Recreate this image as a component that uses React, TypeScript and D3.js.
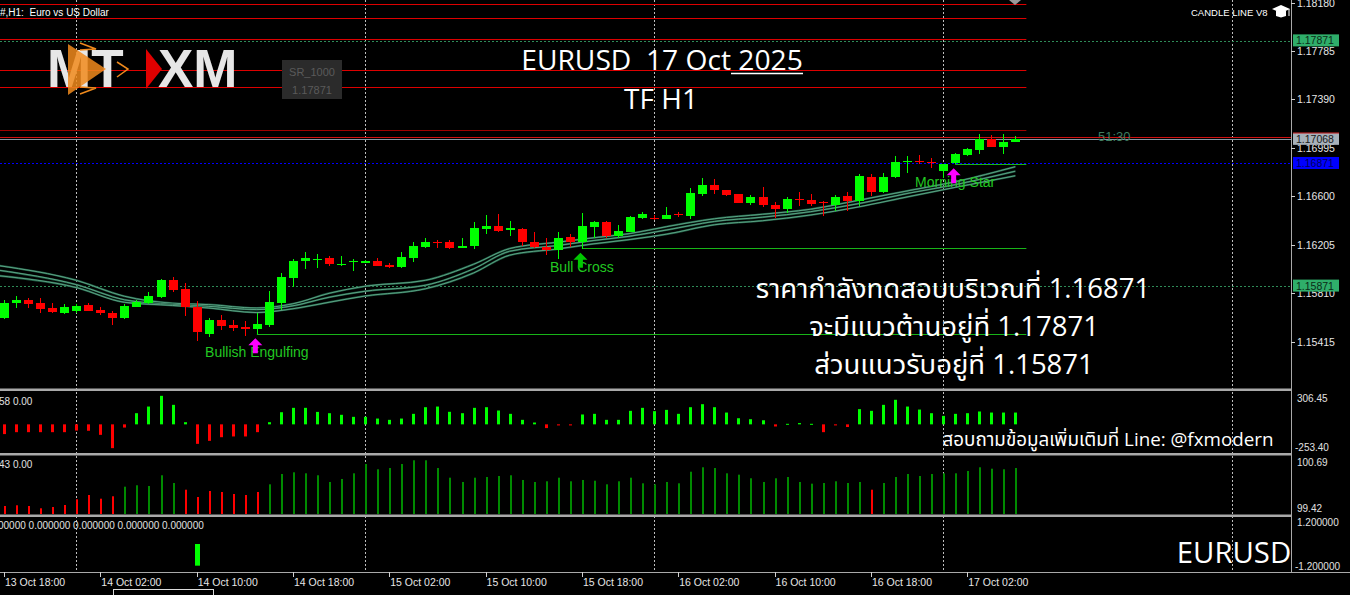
import React from "react";
import * as d3 from "d3";

// ---------- DATA ----------
const opens = [1.15607,1.15729,1.15757,1.15727,1.15688,1.15651,1.15661,1.15710,1.15675,1.15651,
1.15607,1.15697,1.15729,1.15778,1.15914,1.15841,1.15697,1.15476,1.15588,1.15547,
1.15533,1.15515,1.15550,1.15729,1.15933,1.16070,1.16080,1.16092,1.16043,1.16061,
1.16056,1.16075,1.16037,1.16023,1.16100,1.16186,1.16227,1.16227,1.16178,1.16192,
1.16336,1.16355,1.16323,1.16335,1.16225,1.16189,1.16164,1.16264,1.16228,1.16349,
1.16388,1.16274,1.16310,1.16424,1.16424,1.16416,1.16453,1.16442,1.16622,1.16694,
1.16649,1.16614,1.16545,1.16592,1.16531,1.16498,1.16578,1.16572,1.16551,1.16527,
1.16600,1.16564,1.16757,1.16633,1.16757,1.16876,1.16890,1.16881,1.16806,1.16868,
1.16936,1.16980,1.17068,1.17000,1.17046];
const highs = [1.15751,1.15790,1.15773,1.15773,1.15732,1.15719,1.15724,1.15732,1.15697,1.15664,
1.15719,1.15757,1.15819,1.15925,1.15939,1.15892,1.15743,1.15607,1.15631,1.15594,
1.15582,1.15648,1.15827,1.15972,1.16088,1.16149,1.16127,1.16116,1.16110,1.16086,
1.16083,1.16094,1.16053,1.16143,1.16225,1.16263,1.16241,1.16243,1.16263,1.16390,
1.16445,1.16456,1.16394,1.16339,1.16308,1.16258,1.16308,1.16288,1.16460,1.16396,
1.16396,1.16366,1.16441,1.16469,1.16449,1.16514,1.16468,1.16664,1.16747,1.16740,
1.16649,1.16614,1.16608,1.16673,1.16556,1.16597,1.16633,1.16620,1.16564,1.16608,
1.16636,1.16780,1.16780,1.16788,1.16931,1.16931,1.16936,1.16910,1.16861,1.16956,
1.16992,1.17110,1.17096,1.17110,1.17088];
const lows = [1.15596,1.15688,1.15692,1.15648,1.15645,1.15643,1.15645,1.15661,1.15629,1.15547,
1.15602,1.15694,1.15719,1.15773,1.15819,1.15623,1.15417,1.15449,1.15506,1.15501,
1.15460,1.15474,1.15533,1.15675,1.15857,1.16007,1.16012,1.16031,1.16031,1.15988,
1.16056,1.16029,1.16015,1.16012,1.16064,1.16178,1.16178,1.16167,1.16178,1.16170,
1.16290,1.16309,1.16274,1.16192,1.16176,1.16119,1.16084,1.16186,1.16172,1.16261,
1.16261,1.16256,1.16306,1.16416,1.16408,1.16416,1.16434,1.16412,1.16600,1.16620,
1.16600,1.16545,1.16531,1.16510,1.16420,1.16461,1.16518,1.16518,1.16442,1.16478,
1.16482,1.16518,1.16600,1.16628,1.16752,1.16793,1.16861,1.16834,1.16747,1.16861,
1.16926,1.16944,1.17000,1.16944,1.17046];
const closes = [1.15732,1.15757,1.15724,1.15680,1.15656,1.15700,1.15705,1.15667,1.15648,1.15607,
1.15705,1.15737,1.15784,1.15920,1.15833,1.15697,1.15493,1.15588,1.15545,1.15528,
1.15517,1.15555,1.15735,1.15939,1.16075,1.16092,1.16088,1.16045,1.16051,1.16070,
1.16075,1.16031,1.16023,1.16102,1.16192,1.16227,1.16216,1.16178,1.16194,1.16341,
1.16355,1.16320,1.16341,1.16229,1.16184,1.16159,1.16256,1.16228,1.16358,1.16388,
1.16278,1.16318,1.16434,1.16451,1.16416,1.16448,1.16445,1.16624,1.16691,1.16649,
1.16608,1.16545,1.16592,1.16527,1.16498,1.16578,1.16570,1.16536,1.16543,1.16592,
1.16564,1.16766,1.16633,1.16757,1.16876,1.16886,1.16881,1.16873,1.16861,1.16944,
1.16986,1.17068,1.17000,1.17046,1.17068];

// moving-average ribbon, read at sample bars
const maIdx = [-0.4,6,10,14,17,21,24,27,30,35,39,42,46,49,52,55,59,63,67,71,75,79,84];
const maTop = [1.16033,1.15914,1.15784,1.15727,1.15716,1.15688,1.15723,1.15808,1.15866,1.15914,1.16045,1.16173,1.16225,1.16261,1.16296,1.16351,1.16416,1.16453,1.16494,1.16567,1.16643,1.16718,1.16841];
const maMid = [1.15996,1.15879,1.15755,1.15717,1.15702,1.15675,1.15706,1.15776,1.15825,1.15874,1.16008,1.16151,1.16198,1.16239,1.16274,1.16324,1.16394,1.16429,1.16474,1.16540,1.16622,1.16694,1.16804];
const maBot = [1.15951,1.15855,1.15735,1.15709,1.15688,1.15651,1.15682,1.15735,1.15786,1.15845,1.15974,1.16119,1.16170,1.16212,1.16247,1.16290,1.16367,1.16400,1.16447,1.16513,1.16594,1.16672,1.16767];

// oscillator histogram (panel 2)
const histValues = [-91,-73,-73,-73,-73,-73,-58,-60,-98,-222,-30,104,166,266,182,20,-182,-154,-120,-113,
-113,-73,20,113,154,154,116,104,89,70,70,54,42,54,98,160,166,117,104,154,160,129,98,42,17,-35,-10,-10,
92,98,42,42,126,154,123,135,98,160,188,160,110,57,48,38,-20,5,12,5,-73,-10,-25,142,126,182,229,166,138,
104,79,98,104,120,110,110,110];

// strength histogram (panel 3)
const strengthValues = [99.595,99.611,99.595,99.545,99.573,99.617,99.742,99.836,99.755,99.808,
100.018,100.049,100.033,100.268,100.099,99.952,99.792,99.924,99.902,99.858,
99.836,99.902,100.070,100.296,100.333,100.311,100.268,100.121,100.187,100.311,
100.515,100.399,100.427,100.515,100.596,100.596,100.427,100.215,100.121,100.215,
100.230,100.252,100.268,100.165,100.121,100.136,100.215,100.136,100.165,100.149,
100.070,100.136,100.215,100.092,100.070,100.121,100.092,100.346,100.443,100.427,
100.311,100.281,100.202,100.121,100.202,100.230,100.121,100.084,100.099,100.136,
100.099,100.121,99.952,100.099,100.230,100.296,100.252,100.296,100.311,100.311,
100.362,100.443,100.412,100.399,100.427];
const strengthDownBars = [0,1,2,3,4,5,6,7,8,9,15,16,17,18,19,20,21,72];

// signal panel (panel 4)
const signalBars = [16];
const signalValues = [-1];

// time axis
const timeTickBars = [0,8,16,24,32,40,48,56,64,72,80];
const timeLabels = ["13 Oct 18:00","14 Oct 02:00","14 Oct 10:00","14 Oct 18:00","15 Oct 02:00","15 Oct 10:00","15 Oct 18:00","16 Oct 02:00","16 Oct 10:00","16 Oct 18:00","17 Oct 02:00"];
const dayStartBars = [6,30,54,78,102];

// price axis
const priceTicks = [1.18180,1.17785,1.17390,1.16995,1.16600,1.16205,1.15810,1.15415];
const redLevels = [1.18169,1.18053,1.17885,1.17628,1.17490,1.17139];
const resistance = 1.17871;
const support = 1.15871;
const testLevel = 1.16871;
const bidPrice = 1.17068;
const askPrice = 1.17082;

// candle patterns
const patternNames = ["Bullish Engulfing","Bull Cross","Morning Star"];
const patternBars = [21,48,79];
const patternLevels = [1.15474,1.16180,1.16862];
const patternArrowColors = ["#ff00ff","#00c800","#ff00ff"];

// ---------- COMPONENT ----------
const AX = 1291;
const FONT = "'Liberation Sans', Arial, sans-serif";
const BIG = "'Open Sans', 'Noto Sans', 'Noto Sans Thai', sans-serif";

export default function App() {
  const x = d3.scaleLinear().domain([0, 84]).range([4, 4 + 84 * 12.04]);
  const y = d3.scaleLinear().domain([1.15415, 1.1818]).range([341.5, 2.5]);
  const yH = d3.scaleLinear().domain([-253.4, 306.45]).range([451.5, 391.5]);
  const yS = d3.scaleLinear().domain([99.42, 100.69]).range([514, 456]);
  const yG = d3.scaleLinear().domain([-1.2, 1.2]).range([570, 518]);
  const endX = x(84) + 11;
  const py = (p: number) => Math.round(y(p)) + 0.5;

  const maLine = (vals: number[]) =>
    d3.line<number>().x((_, i) => x(maIdx[i])).y((v) => y(v)).curve(d3.curveMonotoneX)(vals) || "";

  const arrow = (cx: number, top: number) =>
    `M${cx},${top} L${cx + 7},${top + 7} L${cx + 2.5},${top + 7} L${cx + 2.5},${top + 15} L${cx - 2.5},${top + 15} L${cx - 2.5},${top + 7} L${cx - 7},${top + 7} Z`;

  const fmt = d3.format(".5f");
  const pre = { whiteSpace: "pre" as const };

  return (
    <div style={{ position: "fixed", left: 0, top: 0, width: 1350, height: 595, background: "#000" }}>
      <svg width={1350} height={595} style={{ display: "block" }}>
        <rect width={1350} height={595} fill="#000" />

        {/* day separators */}
        {dayStartBars.map((b) => (
          <line key={"d" + b} x1={Math.round(x(b)) + 0.5} x2={Math.round(x(b)) + 0.5} y1={0} y2={572} stroke="#bdbdbd" strokeWidth={1} strokeDasharray="2,2" />
        ))}

        {/* red horizontal levels */}
        {redLevels.map((p, i) => (
          <line key={"r" + i} x1={0} x2={endX} y1={py(p)} y2={py(p)} stroke={i === 5 ? "#a00000" : "#dd0000"} strokeWidth={1} />
        ))}

        {/* dotted S/R lines */}
        <line x1={0} x2={AX} y1={py(resistance) + 1} y2={py(resistance) + 1} stroke="#2e8b57" strokeDasharray="2,2" />
        <line x1={0} x2={AX} y1={py(support)} y2={py(support)} stroke="#2e8b57" strokeDasharray="2,2" />
        <line x1={0} x2={AX} y1={py(testLevel)} y2={py(testLevel)} stroke="#0000ff" strokeDasharray="2,2" />

        {/* bid / ask */}
        <line x1={0} x2={AX} y1={py(askPrice)} y2={py(askPrice)} stroke="#d01010" />
        <line x1={0} x2={AX} y1={py(bidPrice)} y2={py(bidPrice)} stroke="#8796a3" />

        {/* pattern level lines */}
        {patternBars.map((b, i) => (
          <line key={"pl" + i} x1={x(b)} x2={endX} y1={py(patternLevels[i])} y2={py(patternLevels[i])} stroke="#18b418" strokeWidth={1.2} />
        ))}

        {/* MA ribbon */}
        {[maTop, maMid, maBot].map((vals, i) => (
          <g key={"ma" + i}>
            <path d={maLine(vals)} fill="none" stroke="#1e5a42" strokeWidth={2} />
            <path d={maLine(vals)} fill="none" stroke="#62a98a" strokeWidth={0.9} />
          </g>
        ))}

        {/* candles */}
        {opens.map((o, i) => {
          const c = closes[i];
          const up = c >= o;
          const col = up ? "#00ff00" : "#ff0000";
          const cx = Math.round(x(i));
          const top = Math.round(y(Math.max(o, c)));
          const bot = Math.round(y(Math.min(o, c)));
          return (
            <g key={"c" + i}>
              <line x1={cx + 0.5} x2={cx + 0.5} y1={Math.round(y(highs[i]))} y2={Math.round(y(lows[i]))} stroke={col} strokeWidth={1} />
              <rect x={cx - 4} y={top} width={9} height={Math.max(1, bot - top)} fill={col} />
            </g>
          );
        })}

        {/* pattern labels and arrows */}
        {patternBars.map((b, i) => {
          const top = y(lows[b]) + 4;
          return (
            <g key={"pt" + i}>
              <text x={x(b)} y={top + 19} textAnchor="middle" fontFamily={FONT} fontSize={14} fill="#22c822">{patternNames[i]}</text>
              <path d={arrow(x(b) - 1.5, top)} fill={patternArrowColors[i]} />
            </g>
          );
        })}

        {/* countdown */}
        <text x={1098} y={141} fontFamily={FONT} fontSize={13} fill="#3f7d60">51:30</text>

        {/* header */}
        <text x={0} y={16} fontFamily={FONT} fontSize={10} fill="#ffffff" style={pre}>#,H1:  Euro vs US Dollar</text>
        <text x={1191} y={16} fontFamily={FONT} fontSize={9.5} fill="#ffffff">CANDLE LINE V8</text>
        <g fill="#ffffff">
          <polygon points="1272,9 1281,5 1290,9 1281,13" />
          <polygon points="1276,11 1286,11 1286,16 1281,17.5 1276,16" />
          <line x1={1289} x2={1289} y1={9} y2={16} stroke="#fff" />
        </g>
        <polygon points="1009,0 1021,0 1015,5" fill="#9a9a9a" />

        {/* logo */}
        <g>
          <text x={47} y={87} fontFamily="'Liberation Sans', Arial" fontWeight="bold" fontSize={53} fill="#e6e6e6">MT</text>
          <polygon points="68,44 106,69 68,95" fill="#f08a1c" opacity={0.85} />
          <polyline points="80,43 96,49 80,50" fill="none" stroke="#f08a1c" strokeWidth={1.5} />
          <polyline points="117,62 128,69 117,77" fill="none" stroke="#f08a1c" strokeWidth={1.5} />
          <polyline points="80,87 96,88 80,94" fill="none" stroke="#f08a1c" strokeWidth={1.5} />
          <polygon points="146,49 162,69 146,89" fill="#e00000" />
          <text x={158} y={87} fontFamily="'Liberation Sans', Arial" fontWeight="bold" fontSize={53} fill="#e6e6e6">XM</text>
        </g>
        <rect x={282} y={60} width={60} height={39} fill="#2b2b2b" />
        <text x={312} y={76} textAnchor="middle" fontFamily={FONT} fontSize={11} fill="#5a5a5a">SR_1000</text>
        <text x={312} y={94} textAnchor="middle" fontFamily={FONT} fontSize={11} fill="#5a5a5a">{fmt(resistance)}</text>

        {/* titles */}
        <text x={662} y={70} textAnchor="middle" fontFamily={BIG} fontSize={28.2} fill="#ffffff" style={pre}>EURUSD  17 Oct 2025</text>
        <line x1={731} x2={803} y1={73.5} y2={73.5} stroke="#ffffff" strokeWidth={1.5} />
        <text x={661} y={109} textAnchor="middle" fontFamily={BIG} fontSize={28} fill="#ffffff">TF H1</text>
        <text x={953} y={298} textAnchor="middle" fontFamily={BIG} fontSize={27.5} fill="#ffffff">ราคากำลังทดสอบบริเวณที่ 1.16871</text>
        <text x={954} y={336} textAnchor="middle" fontFamily={BIG} fontSize={27.5} fill="#ffffff">จะมีแนวต้านอยู่ที่ 1.17871</text>
        <text x={954} y={374} textAnchor="middle" fontFamily={BIG} fontSize={27.5} fill="#ffffff">ส่วนแนวรับอยู่ที่ 1.15871</text>
        <text x={1108} y={446} textAnchor="middle" fontFamily={BIG} fontSize={18.8} fill="#ffffff">สอบถามข้อมูลเพิ่มเติมที่ Line: @fxmodern</text>
        <text x={1234} y={563} textAnchor="middle" fontFamily={BIG} fontSize={29.3} fill="#ffffff">EURUSD</text>

        {/* panel 2 histogram */}
        {histValues.map((v, i) => (
          <rect key={"h" + i} x={Math.round(x(i)) - 1} y={Math.min(yH(v), yH(0))} width={3} height={Math.max(1, Math.abs(yH(v) - yH(0)))} fill={v >= 0 ? "#00ff00" : "#ff0000"} />
        ))}
        <text x={-1} y={405} fontFamily={FONT} fontSize={10} fill="#e0e0e0">58 0.00</text>

        {/* panel 3 histogram */}
        {strengthValues.map((v, i) => (
          <rect key={"s" + i} x={Math.round(x(i))} y={yS(v)} width={2} height={514 - yS(v)} fill={strengthDownBars.includes(i) ? "#ff0000" : "#008a00"} />
        ))}
        <text x={-1} y={468} fontFamily={FONT} fontSize={10} fill="#e0e0e0">43 0.00</text>

        {/* panel 4 */}
        {signalBars.map((b, i) => (
          <rect key={"g" + i} x={Math.round(x(b)) - 2} y={Math.min(yG(0), yG(signalValues[i]))} width={5} height={Math.abs(yG(signalValues[i]) - yG(0))} fill="#00ff00" />
        ))}
        <text x={-2} y={529} fontFamily={FONT} fontSize={10} fill="#e0e0e0">00000 0.000000 0.000000 0.000000 0.000000</text>

        {/* separators */}
        {[389.5, 454, 515.5].map((yy) => (
          <rect key={"sep" + yy} x={0} y={yy - 1} width={AX + 1} height={2.5} fill="#a9a9a9" />
        ))}
        <line x1={AX + 0.5} x2={AX + 0.5} y1={0} y2={573} stroke="#a9a9a9" />
        <line x1={0} x2={1350} y1={572.5} y2={572.5} stroke="#a9a9a9" />

        {/* price axis */}
        {priceTicks.map((p) => (
          <g key={"pt" + p}>
            <line x1={AX} x2={AX + 4} y1={py(p)} y2={py(p)} stroke="#d0d0d0" />
            <text x={1297} y={y(p) + 4} fontFamily={FONT} fontSize={10.5} fill="#e6e6e6">{fmt(p)}</text>
          </g>
        ))}
        {[
          { p: resistance, bg: "#2fae6a", fg: "#0b2a16" },
          { p: bidPrice, bg: "#a7b1ba", fg: "#1a1a1a" },
          { p: testLevel, bg: "#0000ff", fg: "#00005a" },
          { p: support, bg: "#2fae6a", fg: "#0b2a16" },
        ].map((m, i) => (
          <g key={"lab" + i}>
            <rect x={1293} y={y(m.p) - 6} width={46} height={12} fill={m.bg} />
            <text x={1296} y={y(m.p) + 4} fontFamily={FONT} fontSize={10.5} fill={m.fg}>{fmt(m.p)}</text>
          </g>
        ))}
        <line x1={1293} x2={1339} y1={Math.round(y(bidPrice)) - 6} y2={Math.round(y(bidPrice)) - 6} stroke="#c01010" />

        {/* sub-panel labels */}
        <text x={1297} y={402} fontFamily={FONT} fontSize={10} fill="#e0e0e0">306.45</text>
        <text x={1295} y={451} fontFamily={FONT} fontSize={10} fill="#e0e0e0">-253.40</text>
        <text x={1297} y={466} fontFamily={FONT} fontSize={10} fill="#e0e0e0">100.69</text>
        <text x={1297} y={512} fontFamily={FONT} fontSize={10} fill="#e0e0e0">99.42</text>
        <text x={1297} y={526} fontFamily={FONT} fontSize={10} fill="#e0e0e0">1.200000</text>
        <text x={1295} y={570} fontFamily={FONT} fontSize={10} fill="#e0e0e0">-1.200000</text>

        {/* time axis */}
        {timeTickBars.map((b, i) => (
          <g key={"t" + b}>
            <line x1={Math.round(x(b)) + 0.5} x2={Math.round(x(b)) + 0.5} y1={572} y2={577} stroke="#d0d0d0" />
            <text x={x(b) + 1} y={586} fontFamily={FONT} fontSize={10.5} fill="#e6e6e6">{timeLabels[i]}</text>
          </g>
        ))}
        <rect x={113.5} y={589.5} width={100} height={10} fill="#000" stroke="#dcdcdc" />
      </svg>
    </div>
  );
}
